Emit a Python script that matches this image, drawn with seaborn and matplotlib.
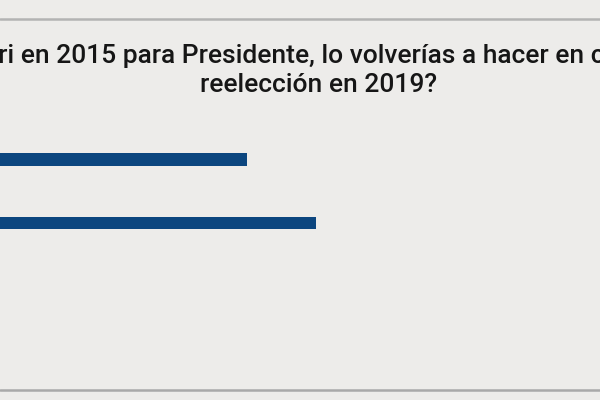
import matplotlib
matplotlib.use("Agg")
import matplotlib.pyplot as plt
from matplotlib.lines import Line2D
import seaborn as sns
import pandas as pd

categories = ["Sí", "No"]
values = [46, 54]
title_line1 = "¿Si votaste a Macri en 2015 para Presidente, lo volverías a hacer en caso de que busque la"
title_line2 = "reelección en 2019?"

BG = "#edecea"
BAR = "#0c467f"

sns.set_theme(style="white")
plt.rcParams["font.family"] = ["Roboto", "DejaVu Sans"]

df = pd.DataFrame({"respuesta": categories, "pct": values})

# bar centres at 159.5 and 223.3 px from top, 63.8 px apart
step = 63.8
top_px = 159.5 - step / 2
ax_h = 2 * step
fig = plt.figure(figsize=(6, 4), dpi=100, facecolor=BG)
ax = fig.add_axes([-0.25, (400 - top_px - ax_h) / 400, 863 / 600, ax_h / 400])
ax.set_facecolor(BG)
sns.barplot(data=df, y="respuesta", x="pct", orient="h", color=BAR,
            width=0.193, saturation=1, linewidth=0, ax=ax)
ax.set_xlim(0, 100)
ax.set_ylim(1.5, -0.5)
for s in ax.spines.values():
    s.set_visible(False)
ax.set_xlabel("")
ax.set_ylabel("")
ax.tick_params(left=False, bottom=False, labelleft=False, labelbottom=False)

fig.text(322 / 600, 1 - 63.3 / 400, title_line1, ha="center", va="baseline",
         fontsize=19, color="#161616", fontweight="medium")
fig.text(319 / 600, 1 - 91.8 / 400, title_line2, ha="center", va="baseline",
         fontsize=19, color="#161616", fontweight="medium")

fig.add_artist(Line2D([0, 1], [1 - 19 / 400] * 2, color="#b3b3b3", lw=1.8,
                      transform=fig.transFigure))
fig.add_artist(Line2D([0, 1], [1 - 390 / 400] * 2, color="#a9a9a9", lw=1.8,
                      transform=fig.transFigure))

fig.savefig("out.png", dpi=100, facecolor=BG)
